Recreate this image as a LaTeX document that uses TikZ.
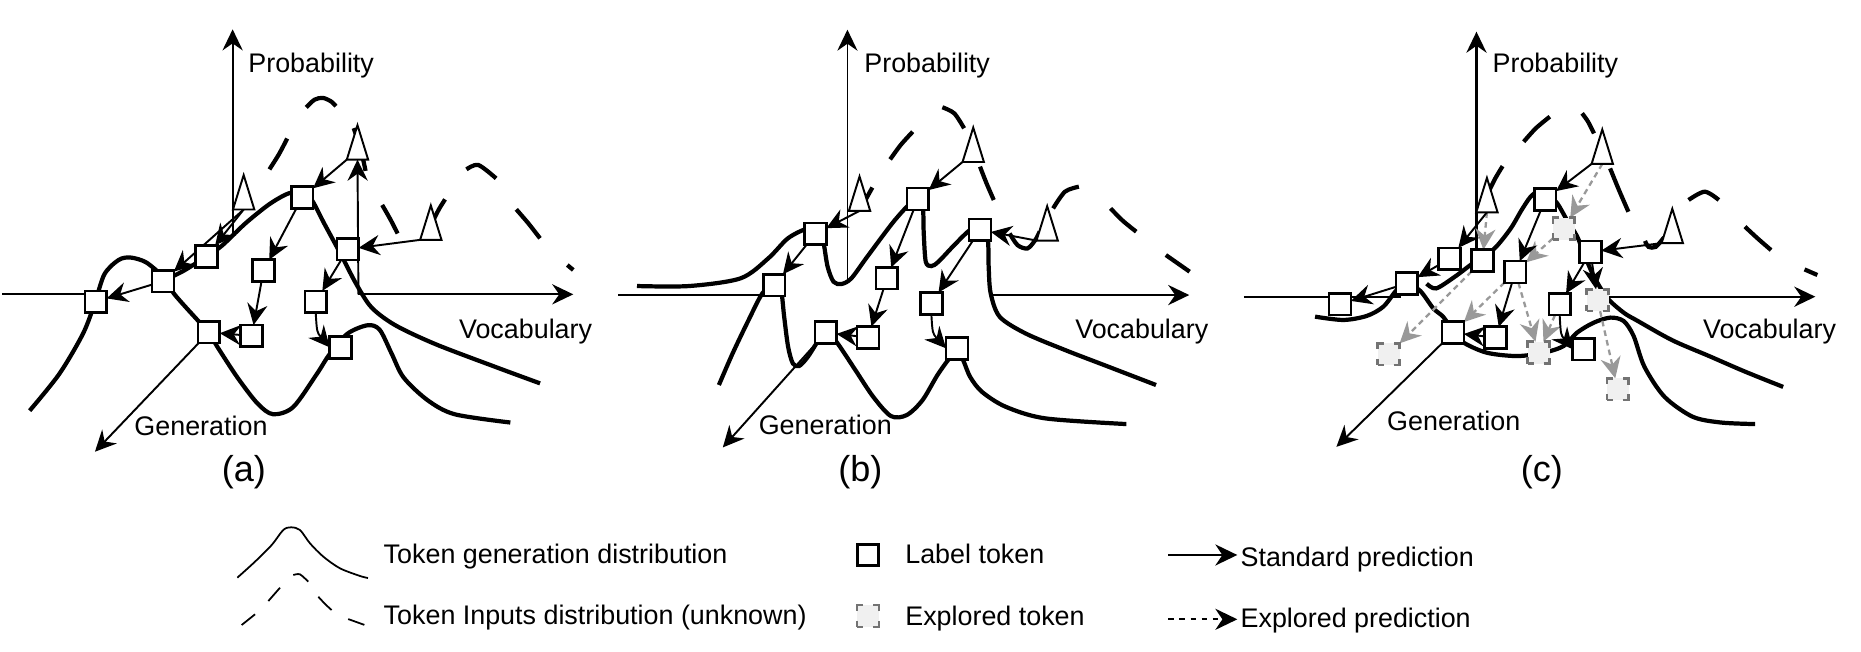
\documentclass[tikz,border=0pt]{standalone}
\usepackage{fontspec}
\setmainfont{Liberation Sans}
\usetikzlibrary{arrows.meta}
\pgfdeclarelayer{bg}
\pgfsetlayers{bg,main}
\def\UU{0.023737cm}
\newcommand\mksq[3]{\node[lbl] (#1) at (#2,#3) {};}
\newcommand\mkesq[3]{\node[expl] (#1) at (#2,#3) {};}
\newcommand\mktri[3]{\node[trin] (#1) at (#2,#3) {};
  \filldraw[tribd] (#1.south west) -- (#1.south east) -- (#1.north) -- cycle;}
\begin{document}
\begin{tikzpicture}[x=\UU,y=-\UU,
  crv/.style={line width=2.4pt},
  ax/.style={line width=1.2pt},
  tip/.style={-{Stealth[length=12pt,width=11.5pt,inset=4pt]}},
  arr/.style={line width=1.1pt,tip},
  garr/.style={draw=black!40,line width=1.3pt,dash pattern=on 3.2pt off 2.4pt,tip},
  txt/.style={font=\fontsize{15.3}{18}\selectfont,inner sep=0,anchor=base west},
  capt/.style={font=\fontsize{20.5}{24}\selectfont,inner sep=0},
  lbl/.style={draw,fill=white,line width=1.5pt,minimum size=18.3*\UU,inner sep=0,outer sep=0},
  expl/.style={draw=black!55,fill=black!6,line width=1.4pt,minimum size=18.5*\UU,inner sep=0,outer sep=0,dash pattern=on 6.9pt off 5.56pt,dash phase=3.45pt},
  trin/.style={minimum width=18*\UU,minimum height=29*\UU,inner sep=0,outer sep=0},
  tribd/.style={draw,fill=white,line width=1.1pt,line join=miter}
]
\useasboundingbox (0,0) rectangle (1568,549);

% ================= panel (a) =================
\mksq{S1}{80.7}{254.2}
\mksq{S2}{137.3}{237}
\mksq{S3}{174}{216}
\mksq{S4}{254.6}{166.4}
\mksq{S5}{222}{228}
\mksq{S6}{293}{210}
\mksq{S7}{266}{254.2}
\mksq{S8}{176}{280}
\mksq{S9}{212}{283}
\mksq{S10}{287}{292.7}
\mktri{Ta1}{301.2}{120}
\mktri{Ta2}{205.3}{162}
\mktri{Ta3}{363}{187.6}
\coordinate (Oa) at (302,248);
\coordinate (GA) at (80,380.6);
\coordinate (PA0) at (196,199);
\coordinate (PA) at (196,24.7);
\coordinate (HA0) at (2,248);
\coordinate (HA1) at (78,248);
\coordinate (HA2) at (483,248);
\node[txt] (pa) at (209,61) {Probability};
\node[txt] (va) at (386.5,285) {Vocabulary};
\node[txt] (gna) at (113,367) {Generation};
\node[capt] (capa) at (205.5,398) {(a)};

% ================= panel (b) =================
\mksq{Sb1}{652.3}{240.2}
\mksq{Sb2}{687}{197}
\mksq{Sb3}{773.3}{167.7}
\mksq{Sb4}{825.7}{193.7}
\mksq{Sb5}{747.3}{234.5}
\mksq{Sb6}{784.7}{255.6}
\mksq{Sb7}{695.7}{280.3}
\mksq{Sb8}{731.3}{284.3}
\mksq{Sb9}{806.3}{293.5}
\mktri{Tb1}{724.2}{163.2}
\mktri{Tb2}{820}{122}
\mktri{Tb3}{882.3}{188.2}
\coordinate (GB) at (609,377);
\coordinate (PB0) at (714,237);
\coordinate (PB) at (714,25);
\coordinate (HB0) at (521,248.6);
\coordinate (HB1) at (645,248.6);
\coordinate (HB2) at (834,248.6);
\coordinate (HB3) at (1002,248.6);
\node[txt] (pb) at (728,61) {Probability};
\node[txt] (vb) at (905.7,285) {Vocabulary};
\node[txt] (gnb) at (639,366) {Generation};
\node[capt] (capb) at (725,398) {(b)};

% ================= panel (c) =================
\mksq{Sc1}{1129}{256.4}
\mksq{Sc2}{1185.3}{238.8}
\mksq{Sc3}{1221.4}{218}
\mksq{Sc4}{1249}{219.6}
\mksq{Sc5}{1302}{168}
\mksq{Sc6}{1276.7}{229.2}
\mksq{Sc7}{1340}{212.3}
\mksq{Sc8}{1314.1}{256.4}
\mksq{Sc9}{1224.2}{280.3}
\mksq{Sc10}{1260}{284.5}
\mksq{Sc11}{1334.3}{294.3}
\mkesq{Se1}{1317.5}{192.7}
\mkesq{Se2}{1346.1}{253}
\mkesq{Se3}{1170}{298.5}
\mkesq{Se4}{1296.4}{297.1}
\mkesq{Se5}{1363}{328}
\mktri{Tc1}{1252.8}{164.4}
\mktri{Tc2}{1350}{123.6}
\mktri{Tc3}{1409}{190.4}
\coordinate (GC) at (1126,376.5);
\coordinate (PC0) at (1244,222);
\coordinate (PC) at (1244,26.7);
\coordinate (HC0) at (1048,250);
\coordinate (HC1) at (1180,250);
\coordinate (HC2) at (1356,250);
\coordinate (HC3) at (1529.5,250);
\node[txt] (pc) at (1257.3,61) {Probability};
\node[txt] (vc) at (1434.6,285) {Vocabulary};
\node[txt] (gnc) at (1168.5,363) {Generation};
\node[capt] (capc) at (1299,398) {(c)};

% ================= legend =================
\node[lbl,minimum size=17.7*\UU] (Lsq) at (731.2,467.6) {};
\node[expl] (Lex) at (731.3,519) {};
\coordinate (L1a) at (984.4,467.6);
\coordinate (L1b) at (1042.5,467.6);
\coordinate (L2a) at (984.4,521.8);
\coordinate (L2b) at (1042.5,521.8);
\node[txt] (t1) at (323,474.5) {Token generation distribution};
\node[txt] (t2) at (323,526.5) {Token Inputs distribution (unknown)};
\node[txt] (t3) at (762.5,474.6) {Label token};
\node[txt] (t4) at (762.5,526.6) {Explored token};
\node[txt] (t5) at (1045,476.9) {Standard prediction};
\node[txt] (t6) at (1045,529) {Explored prediction};

\begin{pgfonlayer}{bg}
% ---------- (a) curves ----------
\draw[crv] plot[smooth] coordinates {(25,346) (50,315) (70,281) (80,255) (88,231) (100,219) (110,217) (123,221) (137,233) (147,248) (166.7,270) (176,280) (183,292) (200,318) (217,340) (230,349) (247,343) (267,315) (278,298) (293,281) (310,274) (320,278) (330,298) (340,318) (360,337) (383,349) (430,356)};
\draw[crv] plot[smooth] coordinates {(137,237) (155,228) (174,216) (187,207) (207,188) (227,172) (243,163) (255,162) (263,169) (273,188) (287,214) (300,239) (313,259) (333,274) (367,290) (417,309) (455,323)};
% dashed (a)
\draw[crv] plot[smooth] coordinates {(227,142.7) (235,130) (242,116.7)};
\draw[crv] plot[smooth] coordinates {(258,90.5) (265,84) (272,82.5) (279,85.5) (283,89.5)};
\draw[crv] plot[smooth] coordinates {(298,108) (304,126) (308,144)};
\draw[crv] plot[smooth] coordinates {(322,172.7) (329,185) (335,196.7)};
\draw[crv] plot[smooth] coordinates {(365,185.7) (370,176) (375,168)};
\draw[crv] plot[smooth] coordinates {(393,142.7) (403,139) (418,150.3)};
\draw[crv] plot[smooth] coordinates {(435,176.4) (445,188) (455,200.8)};
\draw[crv] (478,223.3) -- (483,227.5);
% axes (a)
\draw[ax,tip] (PA0) -- (PA);
\draw[ax] (HA0) -- (HA1);
\draw[ax,tip] (Oa) -- (HA2);
\draw[arr] (Oa) -- (Ta1.south);
\draw[arr] (S8) -- (GA);
% arrows (a)
\draw[arr] (Ta2.south) -- (S3);
\draw[arr] (Ta2.south) -- (S2);
\draw[arr] (S2) -- (S1);
\draw[arr] (Ta1.south west) -- (S4);
\draw[arr] (Ta3.south west) -- (S6);
\draw[arr] (S4) -- (S5);
\draw[arr] (S5) -- (S9);
\draw[arr] (S9) -- (S8);
\draw[arr] (S6) -- (S7);
\draw[arr] (S7.south) .. controls (267,280) .. (S10.west);

% ---------- (b) curves ----------
\draw[crv] plot[smooth] coordinates {(536.7,241) (580.7,241) (624,234.5) (647.3,217.7) (664,200.7) (680.7,192.4) (690.7,193.8) (694,205.1) (697.3,224.7) (702.3,237.4) (709,239.3) (717.3,234.5) (730.7,216.3) (754,185.4) (770.7,168.5) (777.3,174.2) (778.3,196.7) (780,220.5) (784.7,224.2) (790.7,220.5) (804,206.5) (817.3,193.8) (827.3,191) (832.3,202.2) (833,224.7) (834.7,247.2) (842.3,266.9) (864,280.9) (897.3,294.9) (934,309) (974,324.4)};
\draw[crv] plot[smooth] coordinates {(605.7,324.4) (617.3,297.7) (630.7,269.7) (642.3,247.2) (652.3,238.7) (658,244.4) (660.7,266.9) (664,292.1) (668,306.2) (673.3,308.4) (680.7,300.6) (690.7,285.1) (696.7,279.5) (705.7,289.3) (720.7,311.8) (735.7,334.3) (750.7,350.6) (764,349.7) (777.3,337.1) (790.7,314.7) (804,297.7) (810.7,302) (817.3,317.4) (827.3,330.1) (847.3,342.7) (880.7,352.5) (949,357.3)};
% dashed (b)
\draw[crv] plot[smooth] coordinates {(725,176) (730,167) (735,158)};
\draw[crv] plot[smooth] coordinates {(750,134.3) (759,122) (769,111)};
\draw[crv] plot[smooth] coordinates {(794,90.4) (804,95.5) (812.3,108.1)};
\draw[crv] plot[smooth] coordinates {(825.7,140.4) (831,154) (837.3,168.5)};
\draw[crv] plot[smooth] coordinates {(850.7,196.7) (857.3,206.5) (865.7,209.3) (872.3,202.2) (876,195)};
\draw[crv] plot[smooth] coordinates {(887.3,175.6) (897.3,161.5) (909,157.3)};
\draw[crv] plot[smooth] coordinates {(935.7,175.6) (946,186) (957.3,195.2)};
\draw[crv] (982.3,214.9) -- (1002.3,228.9);
% axes (b)
\draw[line width=0.8pt,tip] (PB0) -- (PB);
\draw[ax] (HB0) -- (HB1);
\draw[ax,tip] (HB2) -- (HB3);
\draw[arr] (Sb7) -- (GB);
% arrows (b)
\draw[arr] (Tb1.south) -- (Sb2);
\draw[arr] (Tb2.south west) -- (Sb3);
\draw[arr] (Tb3.south west) -- (Sb4);
\draw[arr] (Sb2) -- (Sb1);
\draw[arr] (Sb3) -- (Sb5);
\draw[arr] (Sb5) -- (Sb8);
\draw[arr] (Sb8) -- (Sb7);
\draw[arr] (Sb4) -- (Sb6);
\draw[arr] (Sb6.south) .. controls (785.7,281) .. (Sb9.west);

% ---------- (c) curves ----------
\draw[crv] plot[smooth] coordinates {(1202,239) (1210,243) (1226,233) (1242,221) (1258.5,210) (1272.5,193) (1282,177) (1289.4,166) (1296,161) (1302,162) (1311.8,171) (1320,185) (1328.7,199) (1334.3,213) (1342.7,232.5) (1354,250.8) (1368,263.4) (1380,270.5) (1409,286.7) (1440,300) (1470,313) (1502.4,326)};
\draw[crv] plot[smooth] coordinates {(1108,266.8) (1131.8,269.6) (1151.5,266.2) (1165.5,258.4) (1176.8,244.3) (1185.3,238.5) (1196.7,245.2) (1207.6,259.8) (1216,267) (1224.2,279) (1233.2,288.7) (1252.8,297.2) (1278.1,300) (1300.6,297.2) (1317.5,291.5) (1328.7,280.3) (1342.7,271.9) (1356.8,267.6) (1368,270.5) (1376.4,283.1) (1385.5,309) (1402.4,334.3) (1426.1,351.1) (1450,356) (1478.7,357.3)};
% dashed (c)
\draw[crv] plot[smooth] coordinates {(1255,160) (1260,150) (1266,140)};
\draw[crv] plot[smooth] coordinates {(1283.8,119.4) (1294,108.1) (1305.8,98.3)};
\draw[crv] plot[smooth] coordinates {(1333,95.5) (1338,102.5) (1343,112.4)};
\draw[crv] plot[smooth] coordinates {(1356.6,141.9) (1364,160) (1372,178.4)};
\draw[crv] plot[smooth] coordinates {(1386,203) (1389,208) (1395,208) (1402,200)};
\draw[crv] plot[smooth] coordinates {(1422.7,168.5) (1436.3,161.5) (1448.2,168.5)};
\draw[crv] plot[smooth] coordinates {(1470.2,191) (1481,201) (1492.2,210.7)};
\draw[crv] (1520.4,227) -- (1531.2,231.7);
% axes (c)
\draw[ax,tip] (PC0) -- (PC);
\draw[ax] (HC0) -- (HC1);
\draw[ax,tip] (HC2) -- (HC3);
\draw[arr] (Sc9) -- (GC);
% gray explored arrows (c)
\draw[garr] (Tc2.south) -- (Se1);
\draw[garr] (Tc1.south) -- (Sc4);
\draw[garr] (Se1) -- (Sc6);
\draw[garr] (Sc4) -- (Se3);
\draw[garr] (Sc6) -- (Sc9);
\draw[garr] (Sc6) -- (Se4);
\draw[garr] (Sc8) -- (Se4);
\draw[garr] (Se2) -- (Se5);
% black arrows (c)
\draw[arr] (Tc1.south) -- (Sc3);
\draw[arr] (Tc2.south west) -- (Sc5);
\draw[arr] (Tc3.south west) -- (Sc7);
\draw[arr] (Sc5) -- (Sc6);
\draw[arr] (Sc6) -- (Sc10);
\draw[arr] (Sc10) -- (Sc9);
\draw[arr] (Sc7) -- (Sc8);
\draw[arr] (Sc7) -- (Se2);
\draw[arr] (Sc3) -- (Sc2);
\draw[arr] (Sc2) -- (Sc1);
\draw[arr] (Sc8.south) .. controls (1315,282) .. (Sc11.west);

% ---------- legend ----------
\draw[line width=1pt] plot[smooth] coordinates {(200,486.7) (214.9,473.2) (228.9,459.2) (238.7,446.5) (245.2,444.3) (252.7,446.5) (261.2,457.8) (272.4,469) (286.4,478.8) (303.3,485.3) (310,487)};
\draw[line width=1pt] (203.6,526.6) -- (214.9,517.6);
\draw[line width=1pt] (226.1,506.4) -- (235.9,495.2);
\draw[line width=1pt] plot[smooth] coordinates {(247.1,484.5) (252.7,483.9) (259.7,490.1)};
\draw[line width=1pt] plot[smooth] coordinates {(268.2,502.8) (274,509) (279.4,514)};
\draw[line width=1pt] (293.4,521.6) -- (307,526.5);
\draw[line width=1.2pt,-{Stealth[length=12.5pt,width=12pt,inset=4pt]}] (L1a) -- (L1b);
\draw[line width=1.2pt,dash pattern=on 3.3pt off 3pt,-{Stealth[length=12.5pt,width=12pt,inset=4pt]}] (L2a) -- (L2b);
\end{pgfonlayer}
\end{tikzpicture}
\end{document}
